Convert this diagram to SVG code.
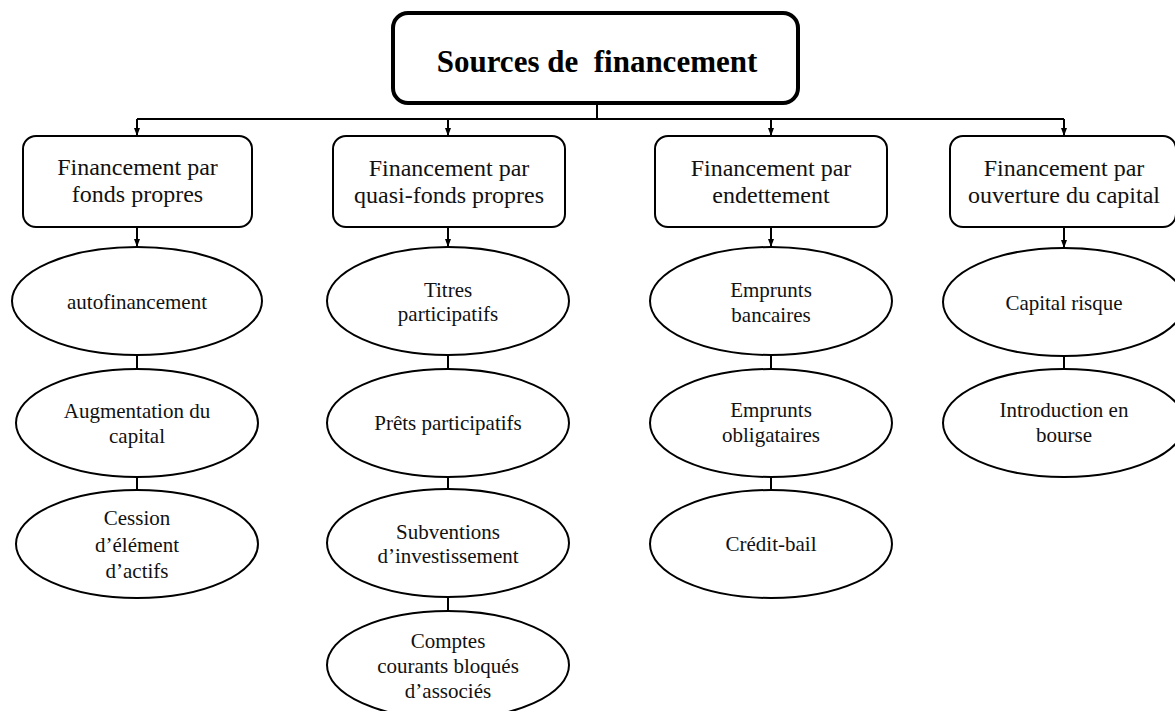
<svg xmlns="http://www.w3.org/2000/svg" width="1175" height="711" viewBox="0 0 1175 711">
  <style>
    .root { fill: #fff; stroke: #000; stroke-width: 4; }
    .box { fill: #fff; stroke: #000; stroke-width: 2; }
    .oval { fill: #fff; stroke: #000; stroke-width: 2; }
    .link { fill: none; stroke: #000; stroke-width: 2; }
    .title { font-family: "Liberation Serif", "Times New Roman", serif; font-size: 31px; font-weight: bold; fill: #000; text-anchor: middle; white-space: pre; }
    .lbl { font-family: "Liberation Serif", "Times New Roman", serif; font-size: 24px; fill: #111; text-anchor: middle; }
    .sub { font-family: "Liberation Serif", "Times New Roman", serif; font-size: 21px; fill: #111; text-anchor: middle; }
  </style>
  <defs>
    <marker id="arrow" viewBox="0 0 8 6" refX="8" refY="3" markerWidth="8" markerHeight="6" markerUnits="userSpaceOnUse" orient="auto">
      <path d="M0,0 L8,3 L0,6 z" fill="#000"/>
    </marker>
  </defs>
  <rect width="1175" height="711" fill="#fff"/>

  <!-- connectors -->
  <g id="connectors">
    <path class="link" d="M597,103 V119"/>
    <path class="link" d="M137,119 H1064"/>
    <path class="link" d="M137,119 V136" marker-end="url(#arrow)"/>
    <path class="link" d="M448,119 V136" marker-end="url(#arrow)"/>
    <path class="link" d="M771,119 V136" marker-end="url(#arrow)"/>
    <path class="link" d="M1064,119 V136" marker-end="url(#arrow)"/>
    <path class="link" d="M137,227 V247" marker-end="url(#arrow)"/>
    <path class="link" d="M448,227 V247" marker-end="url(#arrow)"/>
    <path class="link" d="M771,227 V247" marker-end="url(#arrow)"/>
    <path class="link" d="M1064,227 V248" marker-end="url(#arrow)"/>
    <path class="link" d="M137,355 V369 M137,477 V490"/>
    <path class="link" d="M448,355 V369 M448,477 V489 M448,597 V611"/>
    <path class="link" d="M771,355 V369 M771,477 V490"/>
    <path class="link" d="M1064,356 V369"/>
  </g>

  <!-- root -->
  <g id="root">
    <rect class="root" x="393" y="13" width="405" height="90" rx="15"/>
    <text class="title" x="597" y="72" xml:space="preserve">Sources de  financement</text>
  </g>

  <!-- category boxes -->
  <g id="fonds-propres">
    <rect class="box" x="23" y="136" width="229" height="91" rx="13"/>
    <text class="lbl" x="137.5" y="175">Financement par</text>
    <text class="lbl" x="137.5" y="202">fonds propres</text>
  </g>
  <g id="quasi-fonds-propres">
    <rect class="box" x="333" y="136" width="232" height="91" rx="13"/>
    <text class="lbl" x="449" y="176">Financement par</text>
    <text class="lbl" x="449" y="203">quasi-fonds propres</text>
  </g>
  <g id="endettement">
    <rect class="box" x="655" y="136" width="232" height="91" rx="13"/>
    <text class="lbl" x="771" y="176">Financement par</text>
    <text class="lbl" x="771" y="203">endettement</text>
  </g>
  <g id="ouverture-capital">
    <rect class="box" x="950" y="136" width="226" height="91" rx="13"/>
    <text class="lbl" x="1064" y="176">Financement par</text>
    <text class="lbl" x="1064" y="203">ouverture du capital</text>
  </g>

  <!-- column 1 -->
  <g id="autofinancement">
    <ellipse class="oval" cx="137" cy="301" rx="125" ry="54"/>
    <text class="sub" x="137" y="309">autofinancement</text>
  </g>
  <g id="augmentation-capital">
    <ellipse class="oval" cx="137" cy="423" rx="121" ry="54"/>
    <text class="sub" x="137" y="418">Augmentation du</text>
    <text class="sub" x="137" y="443">capital</text>
  </g>
  <g id="cession-actifs">
    <ellipse class="oval" cx="137" cy="544" rx="121" ry="54"/>
    <text class="sub" x="137" y="525">Cession</text>
    <text class="sub" x="137" y="552">d’élément</text>
    <text class="sub" x="137" y="578">d’actifs</text>
  </g>

  <!-- column 2 -->
  <g id="titres-participatifs">
    <ellipse class="oval" cx="448" cy="301" rx="121" ry="54"/>
    <text class="sub" x="448" y="297">Titres</text>
    <text class="sub" x="448" y="321">participatifs</text>
  </g>
  <g id="prets-participatifs">
    <ellipse class="oval" cx="448" cy="423" rx="121" ry="54"/>
    <text class="sub" x="448" y="430">Prêts participatifs</text>
  </g>
  <g id="subventions">
    <ellipse class="oval" cx="448" cy="543" rx="121" ry="54"/>
    <text class="sub" x="448" y="539">Subventions</text>
    <text class="sub" x="448" y="563">d’investissement</text>
  </g>
  <g id="comptes-courants">
    <ellipse class="oval" cx="448" cy="665" rx="121" ry="54"/>
    <text class="sub" x="448" y="648">Comptes</text>
    <text class="sub" x="448" y="673">courants bloqués</text>
    <text class="sub" x="448" y="698">d’associés</text>
  </g>

  <!-- column 3 -->
  <g id="emprunts-bancaires">
    <ellipse class="oval" cx="771" cy="301" rx="121" ry="54"/>
    <text class="sub" x="771" y="297">Emprunts</text>
    <text class="sub" x="771" y="322">bancaires</text>
  </g>
  <g id="emprunts-obligataires">
    <ellipse class="oval" cx="771" cy="423" rx="121" ry="54"/>
    <text class="sub" x="771" y="417">Emprunts</text>
    <text class="sub" x="771" y="442">obligataires</text>
  </g>
  <g id="credit-bail">
    <ellipse class="oval" cx="771" cy="544" rx="121" ry="54"/>
    <text class="sub" x="771" y="551">Crédit-bail</text>
  </g>

  <!-- column 4 -->
  <g id="capital-risque">
    <ellipse class="oval" cx="1064" cy="302" rx="121" ry="54"/>
    <text class="sub" x="1064" y="310">Capital risque</text>
  </g>
  <g id="introduction-bourse">
    <ellipse class="oval" cx="1064" cy="423" rx="121" ry="54"/>
    <text class="sub" x="1064" y="417">Introduction en</text>
    <text class="sub" x="1064" y="442">bourse</text>
  </g>
</svg>
